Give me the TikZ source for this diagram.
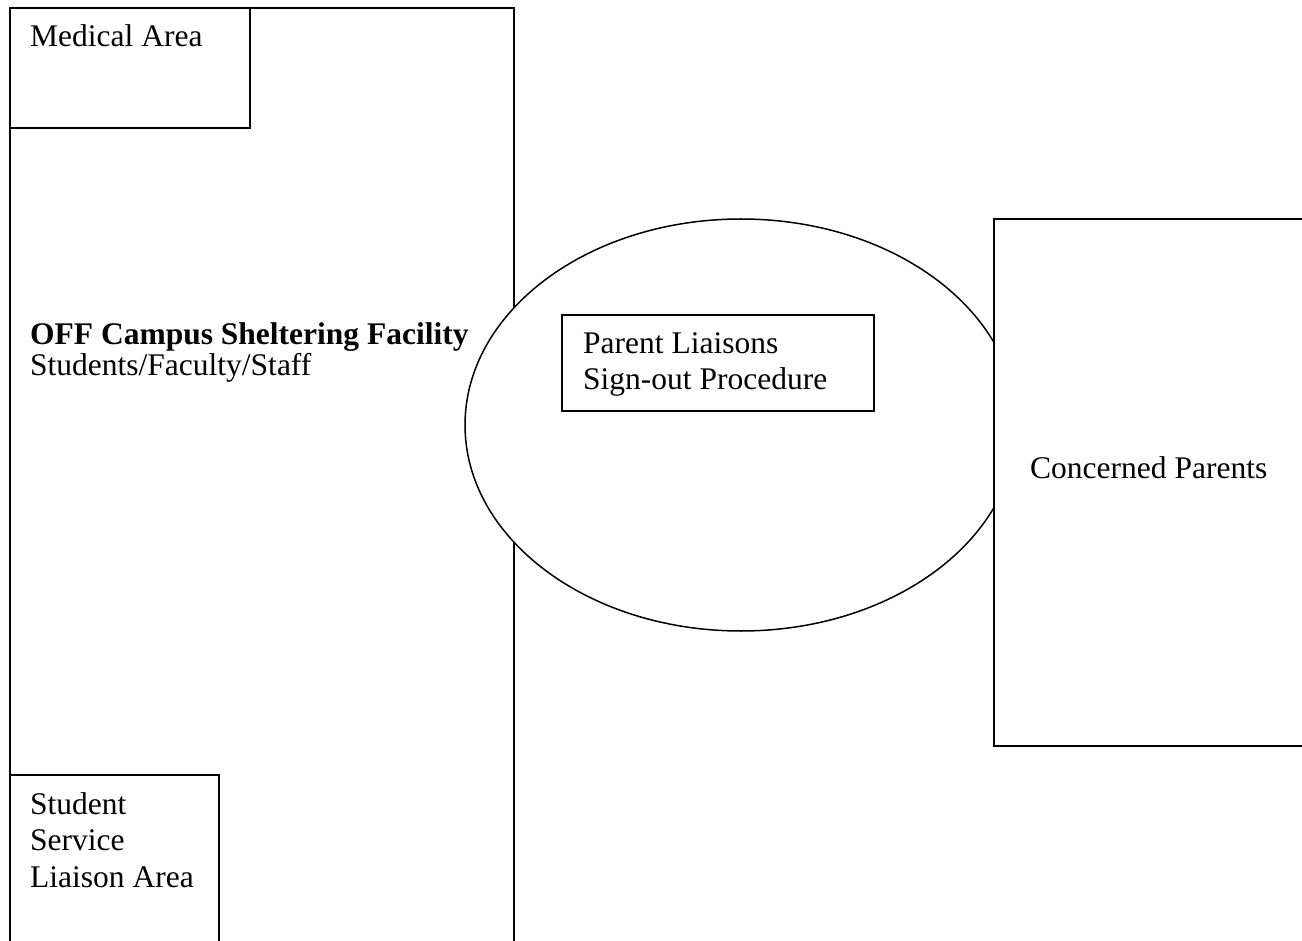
\documentclass[tikz,border=0pt]{standalone}
\usepackage{fontspec}
\setmainfont{Liberation Serif}
\usetikzlibrary{shapes.geometric}
\begin{document}
\begin{tikzpicture}[x=1pt,y=-1pt,
  box/.style={draw=black,line width=2.2pt,fill=white,inner sep=0pt,anchor=north west},
  lbl/.style={anchor=base west,inner sep=0pt,font=\fontsize{31.5}{36.5}\selectfont,align=left}]
\useasboundingbox (0,0) rectangle (1302,941);
\clip (0,0) rectangle (1302,941);
\fill[white] (0,0) rectangle (1302,941);
% main facility
\node[box,minimum width=504pt,minimum height=960pt] (main) at (9,7) {};
\node[box,minimum width=240pt,minimum height=120pt] (med) at (9,7) {};
\node[box,minimum width=209pt,minimum height=200pt] (stu) at (9,774) {};
% ellipse
\node[ellipse,draw=black,line width=1.5pt,fill=white,minimum width=552pt,minimum height=412pt,inner sep=0pt] (ell) at (741,425) {};
\node[box,minimum width=312pt,minimum height=96pt] (pl) at (561,314) {};
\node[box,minimum width=340pt,minimum height=527pt] (cp) at (993,218) {};
% labels (base = baseline of last line)
\node[lbl] (tmed) at (30,47) {Medical Area};
\node[lbl] (tfac) at (30,376) {\textbf{OFF Campus Sheltering Facility}\\[-5pt]Students/Faculty/Staff};
\node[lbl] (tpl) at (583,390) {Parent Liaisons\\Sign-out Procedure};
\node[lbl] (tcp) at (1030,478) {Concerned Parents};
\node[lbl] (tstu) at (30,887) {Student\\Service\\Liaison Area};
\end{tikzpicture}
\end{document}
